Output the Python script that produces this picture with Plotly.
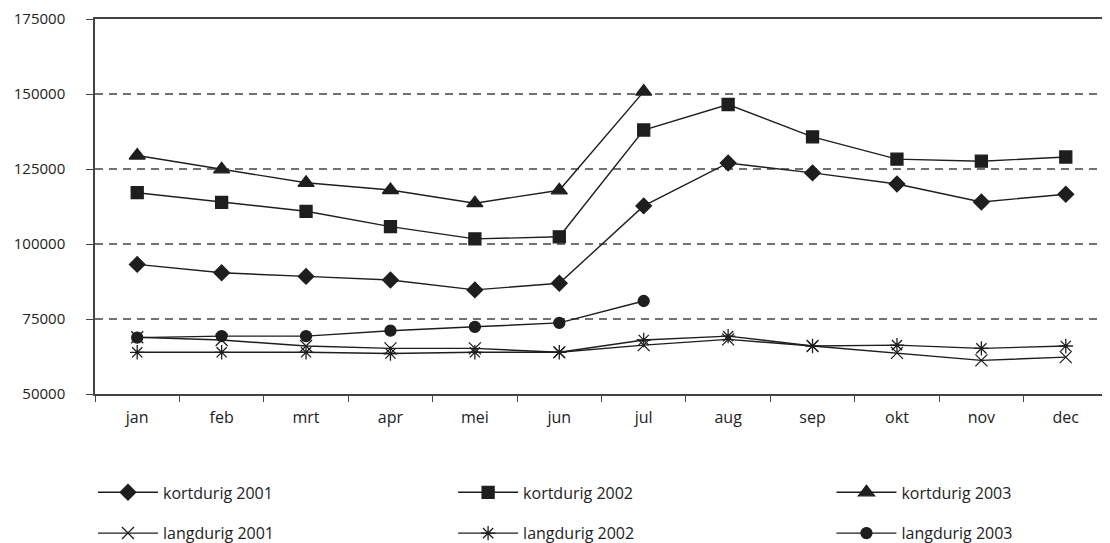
import plotly.graph_objects as go

months = ["jan", "feb", "mrt", "apr", "mei", "jun", "jul", "aug", "sep", "okt", "nov", "dec"]

kortdurig_2001 = [93200, 90400, 89200, 88000, 84700, 86900, 112700, 127000, 123700, 120000, 114000, 116600]
kortdurig_2002 = [117100, 113900, 110900, 105800, 101700, 102400, 138000, 146500, 135700, 128300, 127600, 129000]
kortdurig_2003 = [129500, 124900, 120400, 118000, 113600, 117900, 150800]
langdurig_2001 = [68900, 68000, 66000, 65200, 65200, 63900, 66300, 68200, 66000, 63700, 61200, 62300]
langdurig_2002 = [63900, 63900, 63900, 63500, 63900, 63900, 68000, 69300, 66000, 66300, 65200, 66000]
langdurig_2003 = [68800, 69300, 69300, 71100, 72400, 73700, 81000]

y_ticks = [50000, 75000, 100000, 125000, 150000, 175000]

series = [
    ("kortdurig 2001", kortdurig_2001, "diamond", 12, "legend"),
    ("langdurig 2001", langdurig_2001, "x-thin-open", 12, "legend"),
    ("kortdurig 2002", kortdurig_2002, "square", 12, "legend2"),
    ("langdurig 2002", langdurig_2002, "asterisk-open", 12, "legend2"),
    ("kortdurig 2003", kortdurig_2003, "triangle-up", 14, "legend3"),
    ("langdurig 2003", langdurig_2003, "circle", 11, "legend3"),
]

ink = "#1e1e1e"
fig = go.Figure()
for name, vals, sym, size, lg in series:
    fig.add_trace(go.Scatter(
        x=months[:len(vals)], y=vals, name=name, mode="lines+markers",
        line=dict(color=ink, width=1.4),
        marker=dict(symbol=sym, size=size, color=ink, line=dict(color=ink, width=1.3)),
        legend=lg, legendgroup=name,
    ))

# dashed reference lines
for v in y_ticks[1:-1]:
    fig.add_shape(type="line", xref="paper", x0=0, x1=1, yref="y", y0=v, y1=v,
                  line=dict(color="#444", width=1.3, dash="8px,6px"), layer="below")

xfont = dict(family="Open Sans, DejaVu Sans, sans-serif", size=16, color="#222")
yfont = dict(family="Open Sans, DejaVu Sans, sans-serif", size=15, color="#222")
lfont = dict(family="Open Sans, DejaVu Sans, sans-serif", size=16, color="#222")
legend_common = dict(orientation="v", font=lfont, itemwidth=60, tracegroupgap=17,
                     bgcolor="rgba(0,0,0,0)", xanchor="left", yanchor="top",
                     traceorder="grouped", y=-0.217)

# the page body adds an 8px offset, so the figure is 8px smaller and margins compensate
fig.update_layout(
    width=1102, height=535,
    margin=dict(l=87, r=2, t=11, b=149, autoexpand=False),
    paper_bgcolor="white", plot_bgcolor="white",
    font=yfont,
    showlegend=True,
    legend=dict(x=-0.002, **legend_common),
    legend2=dict(x=0.3535, **legend_common),
    legend3=dict(x=0.727, **legend_common),
    xaxis=dict(
        type="category", categoryorder="array", categoryarray=months,
        range=[-0.5, 11.5], tickson="boundaries", ticks="outside", ticklen=6,
        tickcolor="#444", showline=True, linecolor="#444", linewidth=1.5, mirror=True,
        showgrid=False, tickfont=xfont, ticklabelstandoff=8, automargin=False,
    ),
    yaxis=dict(
        range=[50000, 175000], tickvals=y_ticks, ticktext=[str(v) for v in y_ticks],
        ticks="outside", ticklen=7, tickcolor="#444",
        showline=True, linecolor="#444", linewidth=1.5, mirror=True,
        showgrid=False, zeroline=False, tickfont=yfont, ticklabelstandoff=18,
        automargin=False,
    ),
)

fig.write_html("out.html")
